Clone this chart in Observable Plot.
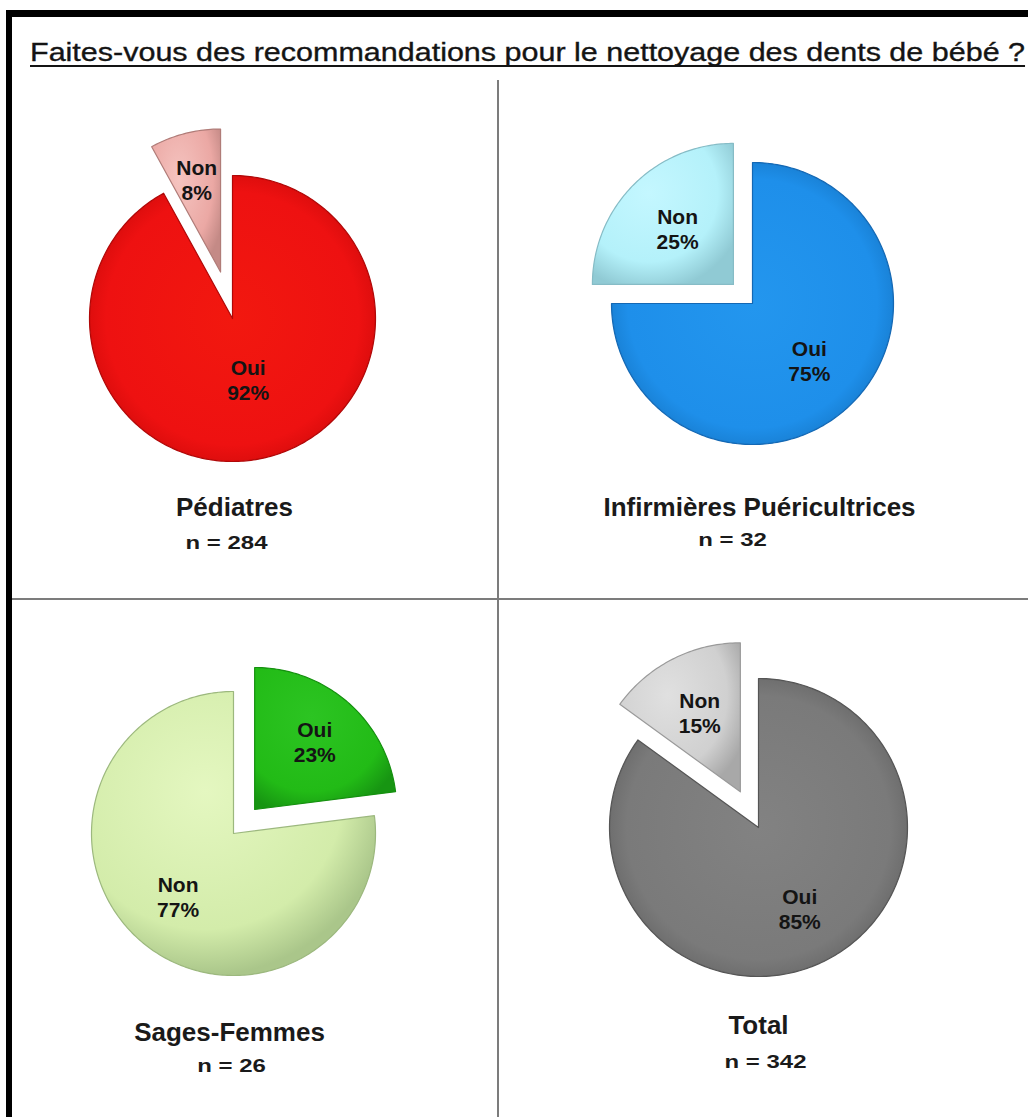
<!DOCTYPE html>
<html><head><meta charset="utf-8">
<script src="https://cdn.jsdelivr.net/npm/d3@7"></script>
<script src="https://cdn.jsdelivr.net/npm/@observablehq/plot@0.6"></script>
<style>
body{margin:0;background:#fff;}
#page{position:relative;width:1028px;height:1117px;overflow:hidden;background:#fff;font-family:"Liberation Sans",Arial,sans-serif;}
#frame{position:absolute;left:6px;top:10px;right:-20px;bottom:-20px;border-top:7px solid #000;border-left:6px solid #000;}
#title{position:absolute;left:30px;top:37px;white-space:nowrap;font-size:26px;line-height:normal;color:#141414;transform-origin:0 0;-webkit-text-stroke:0.35px #141414;}
#title span{text-decoration:underline;text-decoration-thickness:2px;text-underline-offset:4px;text-decoration-skip-ink:none;}
.vdiv{position:absolute;left:497px;top:80px;width:2px;height:1040px;background:#7c7c7c;}
.hdiv{position:absolute;left:12px;top:598px;width:1020px;height:2px;background:#7c7c7c;}
#chart{position:absolute;left:0;top:80px;}
</style></head>
<body>
<svg width="0" height="0" style="position:absolute">
<defs>
<radialGradient id="gOui0" cx="50%" cy="50%" r="52%"><stop offset="0" stop-color="#f2180f"/><stop offset="0.85" stop-color="#ee1111"/><stop offset="0.95" stop-color="#e00e0e"/><stop offset="1" stop-color="#bb0808"/></radialGradient>
<radialGradient id="gNon0" cx="40%" cy="35%" r="70%"><stop offset="0" stop-color="#f5c4c0"/><stop offset="0.7" stop-color="#eba8a4"/><stop offset="1" stop-color="#c48a86"/></radialGradient>
<radialGradient id="gOui1" cx="50%" cy="50%" r="52%"><stop offset="0" stop-color="#2396ee"/><stop offset="0.85" stop-color="#1e8fea"/><stop offset="0.95" stop-color="#1a84da"/><stop offset="1" stop-color="#1468b4"/></radialGradient>
<radialGradient id="gNon1" cx="40%" cy="35%" r="70%"><stop offset="0" stop-color="#c4f7ff"/><stop offset="0.7" stop-color="#b4f1fa"/><stop offset="1" stop-color="#90cad4"/></radialGradient>
<radialGradient id="gOui2" cx="40%" cy="35%" r="70%"><stop offset="0" stop-color="#2cc422"/><stop offset="0.75" stop-color="#22bb16"/><stop offset="1" stop-color="#179512"/></radialGradient>
<radialGradient id="gNon2" cx="40%" cy="35%" r="65%"><stop offset="0" stop-color="#e4f7c0"/><stop offset="0.75" stop-color="#d3ecaa"/><stop offset="1" stop-color="#aac68a"/></radialGradient>
<radialGradient id="gOui3" cx="50%" cy="50%" r="52%"><stop offset="0" stop-color="#828282"/><stop offset="0.85" stop-color="#7a7a7a"/><stop offset="0.95" stop-color="#707070"/><stop offset="1" stop-color="#585858"/></radialGradient>
<radialGradient id="gNon3" cx="40%" cy="35%" r="70%"><stop offset="0" stop-color="#e0e0e0"/><stop offset="0.7" stop-color="#d0d0d0"/><stop offset="1" stop-color="#a8a8a8"/></radialGradient>
</defs></svg>
<div id="page"><div id="frame"></div><div id="title"><span></span></div>
<div class="vdiv"></div><div class="hdiv"></div><div id="chart"></div></div>
<script>
// ---- data ----
const titleText = "Faites-vous des recommandations pour le nettoyage des dents de bébé ?";
const groups = ["Pédiatres", "Infirmières Puéricultrices", "Sages-Femmes", "Total"];
const counts = [284, 32, 26, 342];
const answers = ["Oui", "Non"];
const ouiPct = [92, 75, 23, 85];
const nonPct = [8, 25, 77, 15];

// ---- layout (page pixel coordinates) ----
const layout = [
  {cx: 232, cy: 318, r: 143, explode: "Non", dist: 48, labelR: {Oui: 0.44, Non: 0.67}, name: [234, 515], n: [226, 548]},
  {cx: 752, cy: 303, r: 141, explode: "Non", dist: 27, labelR: {Oui: 0.57, Non: 0.56}, name: [759, 515], n: [732, 545]},
  {cx: 233, cy: 833, r: 142, explode: "Oui", dist: 32, labelR: {Oui: 0.64, Non: 0.59}, name: [229, 1040], n: [231, 1071]},
  {cx: 758, cy: 827, r: 149, explode: "Non", dist: 40, labelR: {Oui: 0.61, Non: 0.60}, name: [758, 1033], n: [765, 1067]}
];
const rimColors = {Oui: ["#b00808", "#1468b4", "#15900f", "#555"], Non: ["#b07c78", "#86bcc6", "#9cb87e", "#9a9a9a"]};

document.querySelector("#title span").textContent = titleText;

const rad = Math.PI / 180;
const wedgePts = [];
const sliceLabels = [];
groups.forEach((g, i) => {
  const L = layout[i];
  const vals = {Oui: ouiPct[i], Non: nonPct[i]};
  let a0 = 0;
  answers.forEach((ans) => {
    const a1 = a0 + vals[ans] * 3.6;
    const mid = (a0 + a1) / 2;
    const off = ans === L.explode ? L.dist : 0;
    const ox = L.cx + off * Math.sin(mid * rad);
    const oy = L.cy - off * Math.cos(mid * rad);
    const id = g + "-" + ans;
    const fill = `url(#g${ans}${i})`;
    const stroke = rimColors[ans][i];
    wedgePts.push({id, x: ox, y: oy, fill, stroke});
    const steps = Math.max(2, Math.ceil(a1 - a0));
    for (let k = 0; k <= steps; ++k) {
      const a = (a0 + (a1 - a0) * k / steps) * rad;
      wedgePts.push({id, x: ox + L.r * Math.sin(a), y: oy - L.r * Math.cos(a), fill, stroke});
    }
    wedgePts.push({id, x: ox, y: oy, fill, stroke});
    const lr = L.labelR[ans] * L.r;
    sliceLabels.push({text: `${ans}\n${vals[ans]}%`, x: ox + lr * Math.sin(mid * rad), y: oy - lr * Math.cos(mid * rad)});
    a0 = a1;
  });
});
const nameLabels = groups.map((g, i) => ({text: g, x: layout[i].name[0], y: layout[i].name[1]}));
const nLabels = counts.map((c, i) => ({text: `n = ${c}`, x: layout[i].n[0], y: layout[i].n[1]}));

const chart = Plot.plot({
  width: 1028, height: 1037, margin: 0,
  x: {domain: [0, 1028], axis: null},
  y: {domain: [80, 1117], reverse: true, axis: null},
  color: {type: "identity"},
  style: {background: "transparent", fontFamily: "'Liberation Sans', Arial, sans-serif"},
  marks: [
    Plot.line(wedgePts, {x: "x", y: "y", z: "id", fill: "fill", stroke: "stroke", strokeWidth: 1.2, curve: "linear"}),
    Plot.text(sliceLabels, {x: "x", y: "y", text: "text", fontSize: 21, fontWeight: "bold", fill: "#141414", lineHeight: 1.2, lineAnchor: "middle"}),
    Plot.text(nameLabels, {x: "x", y: "y", text: "text", fontSize: 26, fontWeight: "bold", fill: "#1a1a1a", lineAnchor: "bottom"}),
    Plot.text(nLabels, {x: "x", y: "y", text: "text", fontSize: 19, fontWeight: "bold", fill: "#1a1a1a", lineAnchor: "bottom", className: "nlab"})
  ]
});
document.getElementById("chart").appendChild(chart);

// horizontal stretch of the n labels, as in the reference
chart.querySelectorAll(".nlab text").forEach(t => {
  const w = t.getComputedTextLength();
  t.setAttribute("textLength", (w * 1.26).toFixed(1));
  t.setAttribute("lengthAdjust", "spacingAndGlyphs");
});
// title stretched to the reference width
const ts = document.querySelector("#title span");
const tw = ts.getBoundingClientRect().width;
document.getElementById("title").style.transform = `scaleX(${(995 / tw).toFixed(4)})`;
</script>
</body></html>
